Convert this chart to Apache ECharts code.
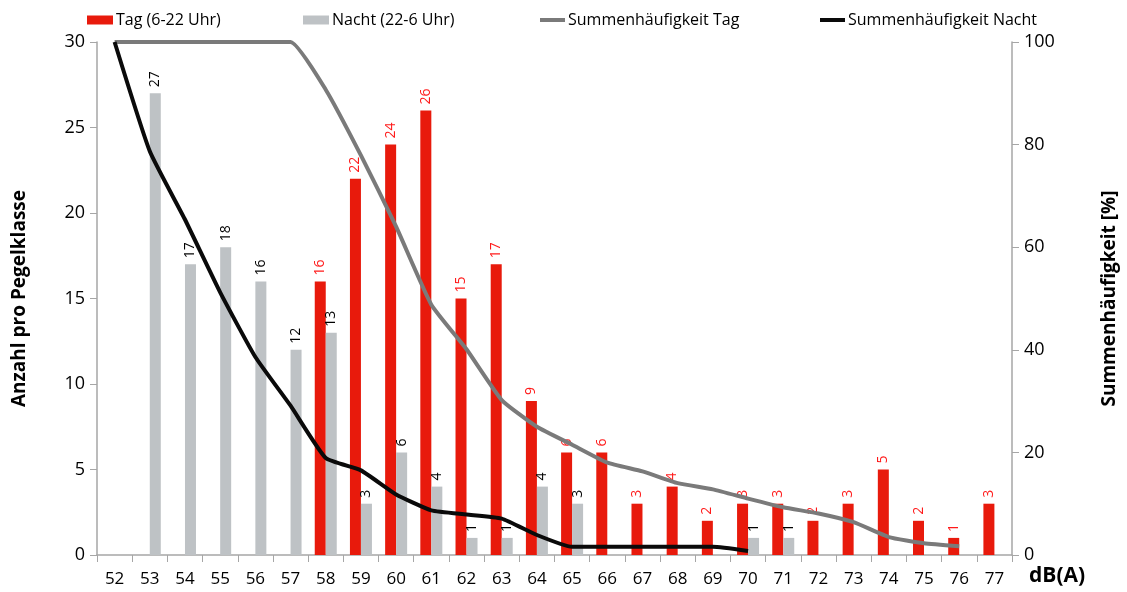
<!DOCTYPE html>
<html><head><meta charset="utf-8">
<script src="https://cdn.jsdelivr.net/npm/echarts@6/dist/echarts.min.js"></script>
<style>html,body{margin:0;padding:0;background:#fff}#c{width:1127px;height:592px}</style>
</head><body><div id="c"></div>
<script>
const categories = ['52','53','54','55','56','57','58','59','60','61','62','63','64','65','66','67','68','69','70','71','72','73','74','75','76','77'];
const tagCounts = [null,null,null,null,null,null,16,22,24,26,15,17,9,6,6,3,4,2,3,3,2,3,5,2,1,3];
const nachtCounts = [null,27,17,18,16,12,13,3,6,4,1,1,4,3,null,null,null,null,1,1,null,null,null,null,null,null];
const cumTag = [100,100,100,100,100,100,90.7,77.9,64.0,48.8,40.1,30.2,25.0,21.5,18.0,16.3,14.0,12.8,11.0,9.3,8.1,6.4,3.5,2.3,1.7,null];
const cumNacht = [100,78.7,65.4,51.2,38.6,29.1,18.9,16.5,11.8,8.7,7.9,7.1,3.9,1.6,1.6,1.6,1.6,1.6,0.8,null,null,null,null,null,null,null];
const leftTicks = [0,30,5];
const rightTicks = [0,100,20];

const FONT = "'Open Sans', 'Liberation Sans', sans-serif";
const chart = echarts.init(document.getElementById('c'));
const axisGray = '#A6A6A6';
function legendAt(name, left, icon, w, h) {
  return { data: [name], left: left, top: 12, padding: 0, icon: icon, itemWidth: w, itemHeight: h,
    textStyle: { fontFamily: FONT, fontSize: 16, color: '#000', padding: [0, 0, 0, -2] }, itemGap: 0, selectedMode: false };
}
chart.setOption({
  animation: false,
  textStyle: { fontFamily: FONT },
  legend: [
    legendAt('Tag (6-22 Uhr)', 87, 'rect', 26, 9),
    legendAt('Nacht (22-6 Uhr)', 303, 'rect', 26, 9),
    legendAt('Summenhäufigkeit Tag', 540, 'rect', 25, 4),
    legendAt('Summenhäufigkeit Nacht', 820, 'rect', 25, 4)
  ],
  grid: { left: 97, right: 112, top: 42, bottom: 37 },
  xAxis: {
    type: 'category', data: categories, boundaryGap: true,
    axisLine: { lineStyle: { color: axisGray, width: 1.5 } },
    axisTick: { show: true, length: 7, lineStyle: { color: axisGray } },
    axisLabel: { fontSize: 17, color: '#000', margin: 16, fontFamily: FONT }
  },
  yAxis: [
    { type: 'value', min: leftTicks[0], max: leftTicks[1], interval: leftTicks[2],
      name: 'Anzahl pro Pegelklasse', nameLocation: 'middle', nameRotate: 90, nameGap: 68,
      nameTextStyle: { fontSize: 19, fontWeight: 'bold', color: '#000', fontFamily: FONT },
      axisLine: { show: true, lineStyle: { color: axisGray, width: 1.5 } },
      axisTick: { show: true, length: 7, lineStyle: { color: axisGray } },
      axisLabel: { fontSize: 18, color: '#000', margin: 12 },
      splitLine: { show: false } },
    { type: 'value', min: rightTicks[0], max: rightTicks[1], interval: rightTicks[2], position: 'right',
      name: 'Summenhäufigkeit [%]', nameLocation: 'middle', nameRotate: 90, nameGap: 88,
      nameTextStyle: { fontSize: 19, fontWeight: 'bold', color: '#000', fontFamily: FONT },
      axisLine: { show: true, lineStyle: { color: axisGray, width: 1.5 } },
      axisTick: { show: true, length: 7, lineStyle: { color: axisGray } },
      axisLabel: { fontSize: 18, color: '#000', margin: 12 },
      splitLine: { show: false } }
  ],
  graphic: [{ type: 'text', left: 1029, top: 566,
    style: { text: 'dB(A)', font: "bold 21px 'Open Sans', sans-serif", fill: '#000' } }],
  series: [
    { name: 'Tag (6-22 Uhr)', type: 'bar', data: tagCounts, barWidth: 11, barGap: '0%',
      itemStyle: { color: '#E81A0C' },
      label: { show: true, position: 'top', rotate: 90, align: 'left', verticalAlign: 'middle', distance: 6,
        fontSize: 14, color: '#FF1A1A', fontFamily: FONT } },
    { name: 'Nacht (22-6 Uhr)', type: 'bar', data: nachtCounts, barWidth: 11, barGap: '0%',
      itemStyle: { color: '#BEC2C5' },
      label: { show: true, position: 'top', rotate: 90, align: 'left', verticalAlign: 'middle', distance: 6,
        fontSize: 14, color: '#000', fontFamily: FONT } },
    { name: 'Summenhäufigkeit Tag', type: 'line', yAxisIndex: 1, data: cumTag, smooth: 0.15,
      symbol: 'none', lineStyle: { color: '#7A7A7A', width: 4 }, itemStyle: { color: '#7A7A7A' } },
    { name: 'Summenhäufigkeit Nacht', type: 'line', yAxisIndex: 1, data: cumNacht, smooth: 0.15,
      symbol: 'none', lineStyle: { color: '#0A0A0A', width: 4 }, itemStyle: { color: '#0A0A0A' } }
  ]
});
</script></body></html>
